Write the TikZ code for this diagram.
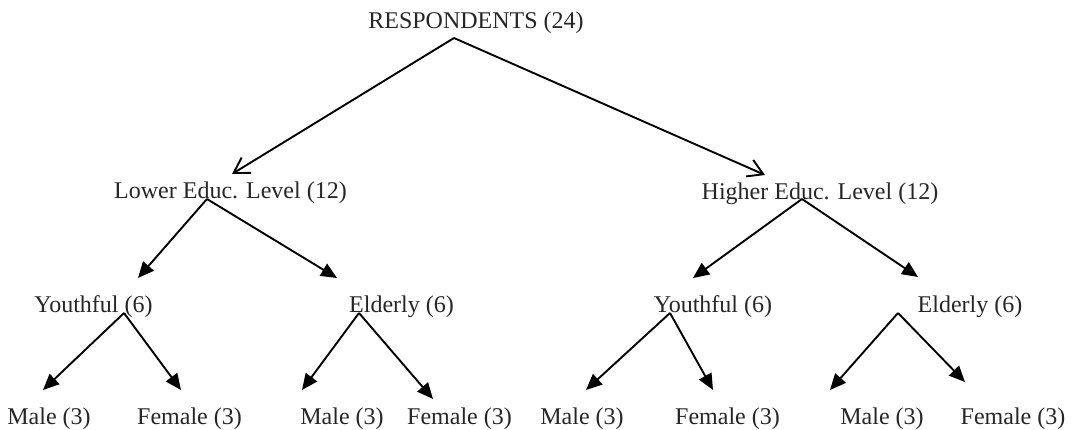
\documentclass[tikz,border=0pt]{standalone}
\usepackage{fontspec}
\setmainfont{Liberation Serif}
\usetikzlibrary{arrows.meta}
\begin{document}
\begin{tikzpicture}[x=1pt,y=-1pt,
  lbl/.style={anchor=base,inner sep=0pt,font=\fontsize{24}{28}\selectfont,text=black!85},
  toparrow/.style={line width=1.9pt,-{Straight Barb[length=15pt,width=18pt,line width=1.9pt]}},
  subarrow/.style={line width=1.9pt,-{Triangle[length=16pt,width=14pt]}}]
\useasboundingbox (0,0) rectangle (1072,430);
% labels
\node[lbl] (resp)   at (476,29)  {RESPONDENTS (24)};
\node[lbl] (lower)  at (230.5,199) {Lower Educ. Level (12)};
\node[lbl] (higher) at (820,200) {Higher Educ. Level (12)};
\node[lbl] (ly) at (93.5,313) {Youthful (6)};
\node[lbl] (le) at (401.5,313) {Elderly (6)};
\node[lbl] (hy) at (713,313) {Youthful (6)};
\node[lbl] (he) at (970,313) {Elderly (6)};
\node[lbl] (lym) at (49,425) {Male (3)};
\node[lbl] (lyf) at (189.5,425) {Female (3)};
\node[lbl] (lem) at (342,425) {Male (3)};
\node[lbl] (lef) at (459.5,425) {Female (3)};
\node[lbl] (hym) at (582,425) {Male (3)};
\node[lbl] (hyf) at (727.5,425) {Female (3)};
\node[lbl] (hem) at (882,425) {Male (3)};
\node[lbl] (hef) at (1013,425) {Female (3)};
% arrow start and end points
\coordinate (resp-o) at (454,38);
\coordinate (lower-i) at (232,174);
\coordinate (higher-i) at (765,175);
\coordinate (lower-o) at (207,199);
\coordinate (higher-o) at (802,199);
\coordinate (ly-i) at (138,278);
\coordinate (le-i) at (337,278);
\coordinate (hy-i) at (693,278);
\coordinate (he-i) at (918,277);
\coordinate (ly-o) at (124,313);
\coordinate (le-o) at (359,313);
\coordinate (hy-o) at (670,313);
\coordinate (he-o) at (898,313);
\coordinate (lym-i) at (43,390);
\coordinate (lyf-i) at (181,390);
\coordinate (lem-i) at (302,390);
\coordinate (lef-i) at (433,399);
\coordinate (hym-i) at (586,390);
\coordinate (hyf-i) at (713,390);
\coordinate (hem-i) at (830,390);
\coordinate (hef-i) at (965,382);
% connectors
\draw[toparrow] (resp-o) -- (lower-i);
\draw[toparrow] (resp-o) -- (higher-i);
\draw[subarrow] (lower-o) -- (ly-i);
\draw[subarrow] (lower-o) -- (le-i);
\draw[subarrow] (higher-o) -- (hy-i);
\draw[subarrow] (higher-o) -- (he-i);
\draw[subarrow] (ly-o) -- (lym-i);
\draw[subarrow] (ly-o) -- (lyf-i);
\draw[subarrow] (le-o) -- (lem-i);
\draw[subarrow] (le-o) -- (lef-i);
\draw[subarrow] (hy-o) -- (hym-i);
\draw[subarrow] (hy-o) -- (hyf-i);
\draw[subarrow] (he-o) -- (hem-i);
\draw[subarrow] (he-o) -- (hef-i);
\end{tikzpicture}
\end{document}
